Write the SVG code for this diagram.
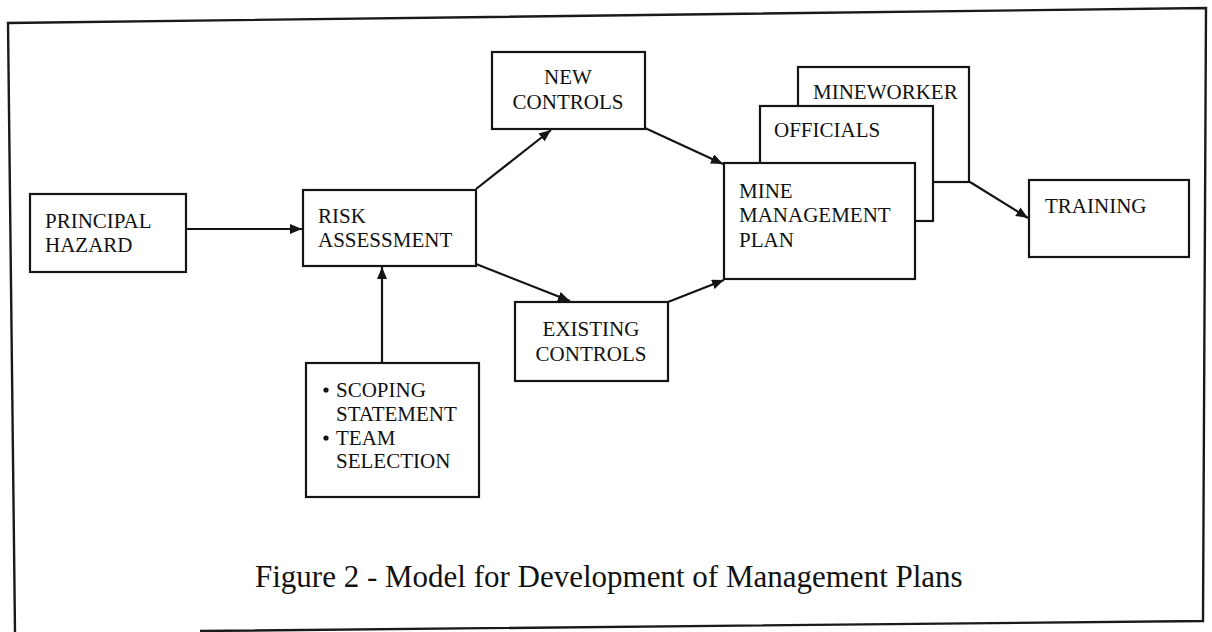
<svg xmlns="http://www.w3.org/2000/svg" width="1212" height="632" viewBox="0 0 1212 632">
  <style>
    .box { fill: #fff; stroke: #141414; stroke-width: 2.2; }
    .lbl { font-family: "Liberation Serif", "Times New Roman", serif; font-size: 21px; fill: #111; }
    .cap { font-family: "Liberation Serif", "Times New Roman", serif; font-size: 31px; fill: #111; }
    .edge { fill: none; stroke: #141414; stroke-width: 2.2; }
    .frame { fill: none; stroke: #1a1a1a; stroke-width: 2.4; }
  </style>
  <defs>
    <marker id="arrow" markerUnits="userSpaceOnUse" markerWidth="14" markerHeight="12" refX="12" refY="5" orient="auto">
      <path d="M0,0 L12,5 L0,10 Z" fill="#141414"/>
    </marker>
  </defs>

  <rect width="1212" height="632" fill="#fff"/>

  <!-- page frame -->
  <path class="frame" d="M200,631 L1203,621 L1206,8 L8,23 L15,632"/>

  <!-- principal hazard -->
  <g id="principal-hazard">
    <rect class="box" x="30" y="194" width="156" height="78"/>
    <text class="lbl" x="45" y="228">PRINCIPAL</text>
    <text class="lbl" x="45" y="252">HAZARD</text>
  </g>

  <!-- risk assessment -->
  <g id="risk-assessment">
    <rect class="box" x="303" y="190" width="173" height="76"/>
    <text class="lbl" x="318" y="223">RISK</text>
    <text class="lbl" x="318" y="247">ASSESSMENT</text>
  </g>

  <!-- new controls -->
  <g id="new-controls">
    <rect class="box" x="492" y="52" width="153" height="77"/>
    <text class="lbl" x="568" y="84" text-anchor="middle">NEW</text>
    <text class="lbl" x="568" y="109" text-anchor="middle">CONTROLS</text>
  </g>

  <!-- existing controls -->
  <g id="existing-controls">
    <rect class="box" x="515" y="302" width="153" height="79"/>
    <text class="lbl" x="591" y="336" text-anchor="middle">EXISTING</text>
    <text class="lbl" x="591" y="361" text-anchor="middle">CONTROLS</text>
  </g>

  <!-- scoping / team selection -->
  <g id="scoping">
    <rect class="box" x="306" y="363" width="173" height="134"/>
    <circle cx="326" cy="390" r="2.6" fill="#111"/>
    <text class="lbl" x="336" y="397">SCOPING</text>
    <text class="lbl" x="336" y="421">STATEMENT</text>
    <circle cx="326" cy="438" r="2.6" fill="#111"/>
    <text class="lbl" x="336" y="445">TEAM</text>
    <text class="lbl" x="336" y="468">SELECTION</text>
  </g>

  <!-- stacked plans: mineworker, officials, mine management plan -->
  <g id="mineworker">
    <rect class="box" x="798" y="67" width="171" height="115"/>
    <text class="lbl" x="813" y="99">MINEWORKER</text>
  </g>
  <g id="officials">
    <rect class="box" x="760" y="106" width="173" height="115"/>
    <text class="lbl" x="774" y="137">OFFICIALS</text>
  </g>
  <g id="mine-management-plan">
    <rect class="box" x="724" y="163" width="191" height="116"/>
    <text class="lbl" x="739" y="198">MINE</text>
    <text class="lbl" x="739" y="222">MANAGEMENT</text>
    <text class="lbl" x="739" y="247">PLAN</text>
  </g>

  <!-- training -->
  <g id="training">
    <rect class="box" x="1029" y="180" width="160" height="77"/>
    <text class="lbl" x="1045" y="213">TRAINING</text>
  </g>

  <!-- connectors -->
  <g id="connectors">
    <line class="edge" x1="186" y1="229" x2="302" y2="229" marker-end="url(#arrow)"/>
    <line class="edge" x1="382" y1="363" x2="382" y2="267" marker-end="url(#arrow)"/>
    <line class="edge" x1="476" y1="189" x2="551" y2="130" marker-end="url(#arrow)"/>
    <line class="edge" x1="476" y1="264" x2="570" y2="301" marker-end="url(#arrow)"/>
    <line class="edge" x1="645" y1="128" x2="723" y2="164" marker-end="url(#arrow)"/>
    <line class="edge" x1="668" y1="302" x2="724" y2="280" marker-end="url(#arrow)"/>
    <line class="edge" x1="970" y1="182" x2="1028" y2="218" marker-end="url(#arrow)"/>
  </g>

  <!-- caption -->
  <text class="cap" x="255" y="587">Figure 2 - Model for Development of Management Plans</text>
</svg>
